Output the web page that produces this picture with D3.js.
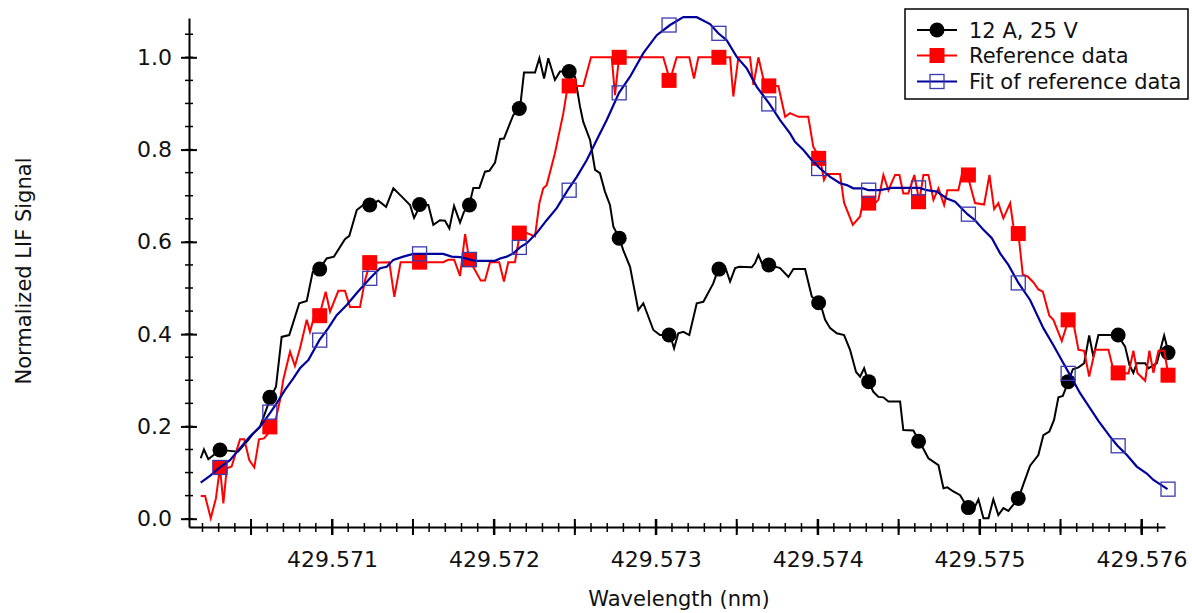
<!DOCTYPE html>
<html><head><meta charset="utf-8">
<script src="https://cdn.jsdelivr.net/npm/d3@7"></script>
<style>
body{margin:0;background:#fff}
svg{display:block}
text{font-family:"DejaVu Sans",Verdana,sans-serif;fill:#111}
</style>
</head><body>
<svg id="c" width="1192" height="613"></svg>
<script>
const seriesNames = ["12 A, 25 V", "Reference data", "Fit of reference data"];
const xTitle = "Wavelength (nm)";
const yTitle = "Normalized LIF Signal";
const xTickLabels = [429.571, 429.572, 429.573, 429.574, 429.575, 429.576];
const yTickLabels = [0.0, 0.2, 0.4, 0.6, 0.8, 1.0];

// marker positions (every marker-interval sample)
const markerWavelengths = [429.570308,429.570616,429.570924,429.571233,429.571541,429.571849,429.572157,429.572465,429.572774,429.573082,429.573390,429.573698,429.574006,429.574315,429.574623,429.574931,429.575239,429.575547,429.575856,429.576164];
const markerBlack = [0.149,0.263,0.541,0.680,0.681,0.680,0.889,0.969,0.608,0.398,0.541,0.550,0.468,0.297,0.168,0.024,0.044,0.297,0.398,0.360];
const markerRed   = [0.111,0.199,0.440,0.555,0.556,0.561,0.619,0.938,1.000,0.950,1.000,0.938,0.781,0.684,0.687,0.745,0.618,0.431,0.316,0.311];
const markerBlue  = [0.111,0.231,0.387,0.521,0.574,0.562,0.588,0.712,0.923,1.070,1.052,0.899,0.759,0.712,0.717,0.660,0.511,0.315,0.158,0.064];

// line traces [wavelength, signal]
const lineBlack = [[429.570189,0.131],[429.570209,0.150],[429.570236,0.129],[429.570308,0.149],[429.570370,0.147],[429.570419,0.145],[429.570483,0.171],[429.570514,0.185],[429.570555,0.199],[429.570586,0.229],[429.570621,0.263],[429.570654,0.286],[429.570689,0.394],[429.570736,0.398],[429.570798,0.467],[429.570844,0.472],[429.570881,0.535],[429.570922,0.541],[429.570967,0.564],[429.571012,0.568],[429.571080,0.606],[429.571107,0.613],[429.571153,0.669],[429.571193,0.680],[429.571235,0.680],[429.571286,0.689],[429.571334,0.676],[429.571379,0.716],[429.571431,0.698],[429.571482,0.680],[429.571507,0.652],[429.571548,0.681],[429.571595,0.680],[429.571626,0.637],[429.571667,0.647],[429.571698,0.646],[429.571725,0.629],[429.571754,0.678],[429.571791,0.642],[429.571815,0.665],[429.571848,0.680],[429.571873,0.717],[429.571910,0.717],[429.571945,0.752],[429.571972,0.754],[429.572007,0.772],[429.572038,0.823],[429.572062,0.824],[429.572120,0.875],[429.572161,0.889],[429.572186,0.967],[429.572254,0.967],[429.572281,0.998],[429.572310,0.954],[429.572336,0.998],[429.572377,0.951],[429.572408,0.969],[429.572460,0.969],[429.572501,0.958],[429.572532,0.893],[429.572552,0.860],[429.572594,0.821],[429.572625,0.756],[429.572655,0.749],[429.572686,0.709],[429.572717,0.680],[429.572738,0.633],[429.572775,0.608],[429.572799,0.582],[429.572841,0.546],[429.572892,0.452],[429.572923,0.467],[429.572985,0.409],[429.573026,0.398],[429.573088,0.398],[429.573113,0.369],[429.573139,0.402],[429.573170,0.405],[429.573207,0.398],[429.573253,0.467],[429.573294,0.470],[429.573355,0.510],[429.573386,0.541],[429.573428,0.546],[429.573459,0.514],[429.573490,0.543],[429.573516,0.546],[429.573593,0.545],[429.573613,0.554],[429.573634,0.572],[429.573655,0.554],[429.573702,0.550],[429.573768,0.543],[429.573819,0.524],[429.573850,0.541],[429.573922,0.541],[429.573964,0.481],[429.574015,0.468],[429.574046,0.431],[429.574077,0.413],[429.574118,0.402],[429.574163,0.398],[429.574200,0.366],[429.574237,0.318],[429.574262,0.308],[429.574287,0.326],[429.574313,0.297],[429.574344,0.275],[429.574375,0.264],[429.574406,0.263],[429.574437,0.254],[429.574509,0.254],[429.574529,0.192],[429.574591,0.191],[429.574628,0.168],[429.574684,0.131],[429.574746,0.116],[429.574777,0.066],[429.574801,0.068],[429.574838,0.059],[429.574880,0.051],[429.574925,0.024],[429.574962,0.019],[429.574993,0.042],[429.575024,0.001],[429.575055,0.001],[429.575085,0.042],[429.575116,0.008],[429.575147,0.023],[429.575178,0.017],[429.575240,0.044],[429.575271,0.075],[429.575312,0.115],[429.575363,0.138],[429.575394,0.181],[429.575431,0.189],[429.575460,0.214],[429.575487,0.263],[429.575514,0.266],[429.575549,0.297],[429.575576,0.324],[429.575611,0.328],[429.575646,0.337],[429.575677,0.397],[429.575703,0.351],[429.575734,0.398],[429.575852,0.398],[429.575899,0.373],[429.575926,0.333],[429.575950,0.316],[429.575971,0.337],[429.576023,0.337],[429.576043,0.326],[429.576095,0.337],[429.576140,0.397],[429.576167,0.360]];

const lineRed = [[429.570189,0.049],[429.570216,0.049],[429.570251,0.001],[429.570283,0.044],[429.570308,0.111],[429.570329,0.033],[429.570350,0.109],[429.570380,0.113],[429.570432,0.172],[429.570458,0.172],[429.570489,0.127],[429.570520,0.111],[429.570549,0.172],[429.570580,0.174],[429.570607,0.185],[429.570621,0.199],[429.570654,0.218],[429.570679,0.257],[429.570699,0.301],[429.570741,0.362],[429.570771,0.331],[429.570802,0.369],[429.570844,0.431],[429.570864,0.405],[429.570895,0.445],[429.570922,0.440],[429.570936,0.459],[429.570961,0.492],[429.570988,0.449],[429.571039,0.494],[429.571080,0.494],[429.571111,0.459],[429.571173,0.459],[429.571204,0.517],[429.571235,0.555],[429.571354,0.556],[429.571385,0.481],[429.571424,0.556],[429.571687,0.556],[429.571718,0.561],[429.571755,0.561],[429.571791,0.526],[429.571822,0.617],[429.571848,0.561],[429.571883,0.539],[429.571919,0.516],[429.571945,0.516],[429.571976,0.556],[429.572033,0.556],[429.572062,0.514],[429.572089,0.556],[429.572130,0.556],[429.572161,0.619],[429.572203,0.619],[429.572254,0.612],[429.572281,0.684],[429.572305,0.716],[429.572326,0.723],[429.572377,0.792],[429.572429,0.879],[429.572456,0.938],[429.572552,0.938],[429.572600,1.000],[429.572728,1.000],[429.572748,0.918],[429.572773,1.000],[429.573046,1.000],[429.573088,0.950],[429.573129,1.000],[429.573207,1.000],[429.573236,0.954],[429.573263,1.000],[429.573459,1.000],[429.573479,0.915],[429.573510,1.000],[429.573582,1.000],[429.573603,0.940],[429.573634,1.000],[429.573664,0.954],[429.573702,0.938],[429.573757,0.938],[429.573799,0.871],[429.573829,0.879],[429.573881,0.871],[429.573942,0.871],[429.573973,0.806],[429.574015,0.781],[429.574039,0.734],[429.574056,0.747],[429.574138,0.747],[429.574163,0.685],[429.574217,0.637],[429.574262,0.655],[429.574282,0.691],[429.574313,0.684],[429.574355,0.684],[429.574375,0.691],[429.574406,0.745],[429.574437,0.712],[429.574478,0.745],[429.574505,0.745],[429.574529,0.705],[429.574560,0.705],[429.574597,0.745],[429.574628,0.687],[429.574653,0.745],[429.574684,0.745],[429.574715,0.691],[429.574746,0.716],[429.574781,0.680],[429.574801,0.712],[429.574869,0.712],[429.574890,0.745],[429.574925,0.745],[429.574972,0.684],[429.575028,0.681],[429.575061,0.745],[429.575090,0.671],[429.575116,0.684],[429.575147,0.651],[429.575189,0.684],[429.575213,0.623],[429.575240,0.618],[429.575267,0.529],[429.575297,0.525],[429.575333,0.512],[429.575363,0.497],[429.575391,0.492],[429.575431,0.440],[429.575456,0.431],[429.575508,0.385],[429.575549,0.431],[429.575576,0.431],[429.575611,0.366],[429.575646,0.364],[429.575677,0.308],[429.575714,0.366],[429.575796,0.366],[429.575827,0.322],[429.575852,0.316],[429.575920,0.315],[429.575950,0.364],[429.575975,0.316],[429.576023,0.299],[429.576049,0.364],[429.576074,0.316],[429.576105,0.364],[429.576140,0.364],[429.576167,0.311]];

const lineBlue = [[429.570189,0.078],[429.570246,0.093],[429.570308,0.111],[429.570370,0.127],[429.570432,0.153],[429.570493,0.178],[429.570555,0.199],[429.570621,0.231],[429.570658,0.250],[429.570710,0.279],[429.570761,0.304],[429.570802,0.326],[429.570854,0.344],[429.570922,0.387],[429.570977,0.413],[429.571029,0.441],[429.571091,0.463],[429.571153,0.489],[429.571235,0.521],[429.571297,0.543],[429.571338,0.546],[429.571379,0.561],[429.571440,0.568],[429.571502,0.574],[429.571687,0.574],[429.571739,0.568],[429.571791,0.567],[429.571848,0.562],[429.571883,0.559],[429.572007,0.559],[429.572038,0.564],[429.572079,0.568],[429.572120,0.575],[429.572161,0.588],[429.572203,0.597],[429.572264,0.619],[429.572326,0.647],[429.572388,0.673],[429.572456,0.712],[429.572512,0.741],[429.572573,0.777],[429.572635,0.821],[429.572697,0.864],[429.572773,0.923],[429.572841,0.958],[429.572923,1.009],[429.573006,1.048],[429.573088,1.070],[429.573170,1.087],[429.573253,1.087],[429.573335,1.072],[429.573386,1.052],[429.573438,1.037],[429.573500,1.001],[429.573562,0.976],[429.573624,0.936],[429.573702,0.899],[429.573768,0.864],[429.573829,0.835],[429.573860,0.817],[429.573912,0.799],[429.573964,0.777],[429.574015,0.759],[429.574077,0.741],[429.574138,0.727],[429.574180,0.723],[429.574220,0.716],[429.574282,0.716],[429.574313,0.712],[429.574385,0.712],[429.574458,0.717],[429.574571,0.717],[429.574628,0.717],[429.574674,0.712],[429.574736,0.709],[429.574798,0.694],[429.574849,0.687],[429.574925,0.660],[429.574972,0.647],[429.575024,0.626],[429.575076,0.608],[429.575127,0.575],[429.575178,0.550],[429.575240,0.511],[429.575312,0.474],[429.575394,0.413],[429.575456,0.376],[429.575518,0.337],[429.575553,0.315],[429.575621,0.272],[429.575683,0.239],[429.575734,0.212],[429.575806,0.178],[429.575852,0.158],[429.575910,0.138],[429.575971,0.113],[429.576033,0.098],[429.576074,0.084],[429.576161,0.064]];

const svg = d3.select("#c");
const x = d3.scaleLinear().domain([429.5701167, 429.5761454]).range([189, 1165]);
const y = d3.scaleLinear().domain([-0.018, 1.0852]).range([527, 18]);

// X axis
const gx = svg.append("g").attr("transform", "translate(0,527)");
gx.call(d3.axisBottom(x).tickValues(xTickLabels).tickFormat(d3.format(".3f")).tickSizeInner(8).tickSizeOuter(0));
gx.select(".domain").attr("stroke", "#000").attr("stroke-width", 2);
gx.selectAll(".tick line").attr("y1", -8).attr("y2", 8).attr("stroke", "#000").attr("stroke-width", 2);
gx.selectAll(".tick text").attr("y", 40).attr("dy", 0).style("font-size", "22px").attr("fill", "#111");
gx.selectAll("line.minor").data(x.ticks(60)).join("line").attr("class", "minor")
  .attr("x1", d => x(d)).attr("x2", d => x(d)).attr("y1", -4).attr("y2", 5)
  .attr("stroke", "#000").attr("stroke-width", 1.5);
gx.selectAll("line.mid").data(x.ticks(12)).join("line").attr("class", "mid")
  .attr("x1", d => x(d)).attr("x2", d => x(d)).attr("y1", -8).attr("y2", 8)
  .attr("stroke", "#000").attr("stroke-width", 2);

// Y axis
const gy = svg.append("g").attr("transform", "translate(189,0)");
gy.call(d3.axisLeft(y).tickValues(yTickLabels).tickFormat(d3.format(".1f")).tickSizeInner(8).tickSizeOuter(0));
gy.select(".domain").attr("stroke", "#000").attr("stroke-width", 2);
gy.selectAll(".tick line").attr("x1", -8).attr("x2", 8).attr("stroke", "#000").attr("stroke-width", 2);
gy.selectAll(".tick text").attr("x", -17).style("font-size", "22px").attr("fill", "#111");
gy.selectAll("line.minor").data(y.ticks(22)).join("line").attr("class", "minor")
  .attr("y1", d => y(d)).attr("y2", d => y(d)).attr("x1", -4).attr("x2", 4)
  .attr("stroke", "#000").attr("stroke-width", 1.5);

// titles
svg.append("text").attr("x", 679).attr("y", 606).attr("text-anchor", "middle")
  .style("font-size", "21px").text(xTitle);
svg.append("text").attr("transform", "translate(31,271) rotate(-90)").attr("text-anchor", "middle")
  .style("font-size", "21px").text(yTitle);

const line = d3.line().x(d => x(d[0])).y(d => y(d[1]));
const styles = [
  {color: "#000000", width: 2, line: lineBlack, marks: markerBlack, shape: "circle"},
  {color: "#ff0000", width: 2, line: lineRed, marks: markerRed, shape: "fsquare"},
  {color: "#00009c", width: 2.2, line: lineBlue, marks: markerBlue, shape: "osquare"}
];
function drawMarker(g, shape, cx, cy, color, s) {
  if (shape === "circle") {
    g.append("circle").attr("cx", cx).attr("cy", cy).attr("r", 7.5 * s).attr("fill", color);
  } else if (shape === "fsquare") {
    g.append("rect").attr("x", cx - 7.5 * s).attr("y", cy - 7.5 * s).attr("width", 15 * s).attr("height", 15 * s).attr("fill", color);
  } else {
    g.append("rect").attr("x", cx - 7 * s).attr("y", cy - 7 * s).attr("width", 14 * s).attr("height", 14 * s)
      .attr("fill", "none").attr("stroke", "#3a3ab0").attr("stroke-width", 1.3);
  }
}
styles.forEach(st => {
  const g = svg.append("g");
  g.append("path").datum(st.line).attr("d", line).attr("fill", "none")
    .attr("stroke", st.color).attr("stroke-width", st.width).attr("stroke-linejoin", "miter");
  markerWavelengths.forEach((w, i) => drawMarker(g, st.shape, x(w), y(st.marks[i]), st.color, 1));
});

// legend
const lg = svg.append("g");
lg.append("rect").attr("x", 905).attr("y", 9).attr("width", 283).attr("height", 90)
  .attr("fill", "#fff").attr("stroke", "#000").attr("stroke-width", 1.5);
const rows = [30, 55.5, 81.5];
styles.forEach((st, i) => {
  lg.append("line").attr("x1", 917).attr("x2", 957).attr("y1", rows[i]).attr("y2", rows[i])
    .attr("stroke", st.color).attr("stroke-width", st.width);
  drawMarker(lg, st.shape, 937, rows[i], st.color, 1);
  lg.append("text").attr("x", 969).attr("y", rows[i]).attr("dy", "0.36em")
    .style("font-size", "21px").text(seriesNames[i]);
});
</script>
</body></html>
